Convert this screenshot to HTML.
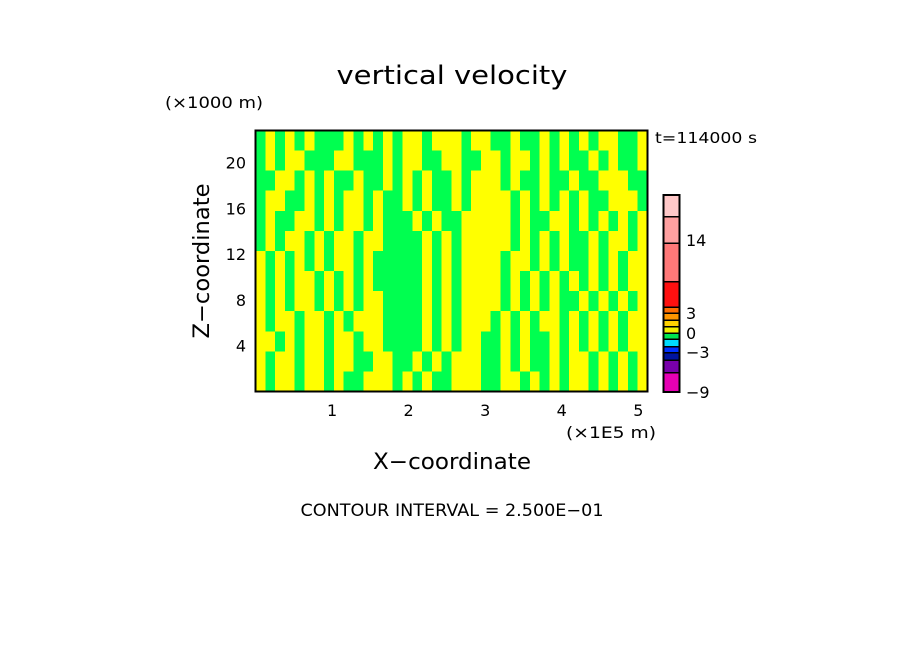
<!DOCTYPE html>
<html><head><meta charset="utf-8"><style>
html,body{margin:0;padding:0;background:#fff;}
svg text{font-family:"DejaVu Sans","Liberation Sans",sans-serif;fill:#000;}
</style></head><body>
<svg id="chart" width="904" height="654" xmlns="http://www.w3.org/2000/svg">
<text x="452" y="84" font-size="26" text-anchor="middle" textLength="231" lengthAdjust="spacingAndGlyphs">vertical velocity</text>
<text x="165" y="108" font-size="16" textLength="98" lengthAdjust="spacingAndGlyphs">(×1000 m)</text>
<text x="655" y="143" font-size="15" textLength="102" lengthAdjust="spacingAndGlyphs">t=114000 s</text>
<g id="field" shape-rendering="crispEdges"></g>
<rect x="255.5" y="130.5" width="392" height="261" fill="none" stroke="#000" stroke-width="2"/>
<g id="xticks"></g>
<g id="yticks"></g>
<text x="566" y="438" font-size="16" textLength="90" lengthAdjust="spacingAndGlyphs">(×1E5 m)</text>
<text x="452" y="469" font-size="22" text-anchor="middle" textLength="158" lengthAdjust="spacingAndGlyphs">X−coordinate</text>
<text x="0" y="0" font-size="22" text-anchor="middle" textLength="155" lengthAdjust="spacingAndGlyphs" transform="translate(209,261) rotate(-90)">Z−coordinate</text>
<g id="cbar" shape-rendering="crispEdges"></g>
<text x="452" y="516" font-size="17" text-anchor="middle" textLength="303" lengthAdjust="spacingAndGlyphs">CONTOUR INTERVAL = 2.500E−01</text>
</svg>
<script>
const fieldRows = [
"GYGYGYGGGYGYGYGYYGYYYGYYGGYGGYGYGYGYYGGY",
"GYGYYGGGYYGGGYGYYGGYYGGYYGYYGYGYGGYGYGGY",
"GGYYGYGYGGYGGYGYGYGGYGYYYGYGGYGGYGGYYYGG",
"GYYGGYGYGYYGYGGYGYGGYGYYYYGYGYGYGYGGYYYG",
"GYGGYYGYGYYGYGGGYGYGGYYYYYGYGGYYGYGYGYGY",
"GYGYYGYGYYGYYGGGGYGYGYYYYYGYGYGYGGYGYYGY",
"YGYGYGYGYYGYGGGGGYGYGYYYYGYYGYGYGGYGYGYY",
"YGYGYYGYGYGYGGGGGYGYGYYYYGYGYGYGYGYGYGYY",
"YGYGYYGYGYGYYGGGGYGYGYYYYGYGYGYGGYGYGYGY",
"YGYYGYYGYGYYYGGGGYGYGYYYGYGYGYYGYGYGYGYY",
"YYGYGYYGYYGYYGGGGYGYGYYGGYGYGGYGYGYGYGYY",
"YGYYGYYGYYGGYYGGYGYGYYYGGYGYGGYGYYGYGYGY",
"YGYYGYYGYGGYYYGYGYGGYYYGGYYGYGYGYYGYGYGY"];
const xTickValues = [1,2,3,4,5];
const yTickValues = [4,8,12,16,20];
const cbarColors = ["#e600b4","#7800aa","#0014a0","#0032ff","#00dcff","#00e650","#f0f000","#ffd200","#ff9600","#ff6e00","#ff1010","#ff7878","#ffa0a0","#ffc8c8"];
const cbarLabels = [-9,-3,0,3,14];
const cbarLabelY = [392,352,333,313,240];

const NS="http://www.w3.org/2000/svg";
const X0=255.5,X1=647.5,Y0=130.5,Y1=391.5;
const xMin=0,xMax=5.12,zMin=0,zMax=22.8;
const sx=v=>X0+(v-xMin)/(xMax-xMin)*(X1-X0);
const sy=v=>Y1-(v-zMin)/(zMax-zMin)*(Y1-Y0);
function mk(tag,attrs,parent){const e=document.createElementNS(NS,tag);for(const k in attrs)e.setAttribute(k,attrs[k]);parent.appendChild(e);return e;}
const field=document.getElementById('field');
const nr=fieldRows.length,nc=fieldRows[0].length;
for(let r=0;r<nr;r++){for(let c=0;c<nc;c++){
  const xa=sx(xMin+(xMax-xMin)*c/nc),xb=sx(xMin+(xMax-xMin)*(c+1)/nc);
  const ya=sy(zMax-(zMax-zMin)*r/nr),yb=sy(zMax-(zMax-zMin)*(r+1)/nr);
  const e=mk('rect',{x:xa,y:ya,width:xb-xa+0.5,height:yb-ya+0.5,fill:fieldRows[r][c]==='G'?'#00ff50':'#ffff00'},field);
  
  
}}
const xt=document.getElementById('xticks');
xTickValues.forEach(v=>{const t=mk('text',{x:sx(v),y:416,'font-size':16,'text-anchor':'middle'},xt);t.textContent=v;

});
const yt=document.getElementById('yticks');
yTickValues.forEach(v=>{const t=mk('text',{x:246,y:sy(v)+6,'font-size':16,'text-anchor':'end'},yt);t.textContent=v;

});
const cb=document.getElementById('cbar');
const CB0=392,CB1=195,cbX=663.5,cbW=16;
const segPix=[392,372.7,360,352.7,346.7,339.3,333.3,326.7,320,313.3,307.3,281.7,243.3,216.7,195];
for(let i=0;i<cbarColors.length;i++){
  const e=mk('rect',{x:cbX,y:segPix[i+1],width:cbW,height:segPix[i]-segPix[i+1],fill:cbarColors[i],stroke:'#000','stroke-width':1.5},cb);
  
  
}
mk('rect',{x:cbX,y:CB1,width:cbW,height:CB0-CB1,fill:'none',stroke:'#000','stroke-width':2},cb);
cbarLabels.forEach((v,i)=>{const t=mk('text',{x:686,y:cbarLabelY[i]+6,'font-size':16},cb);t.textContent=v<0?'−'+(-v):v;

});
</script>
</body></html>
